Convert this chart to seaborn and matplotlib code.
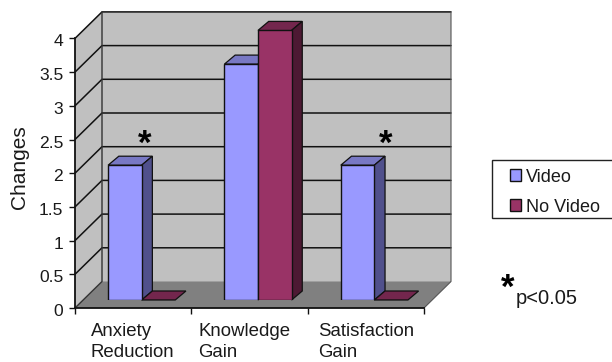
import matplotlib
matplotlib.use("Agg")
import matplotlib.pyplot as plt
import pandas as pd
import seaborn as sns
from matplotlib.patches import Polygon, Rectangle
from matplotlib.transforms import ScaledTranslation

categories = ["Anxiety\nReduction", "Knowledge\nGain", "Satisfaction\nGain"]
video_values = [2, 3.5, 2]
no_video_values = [0, 4, 0]
series_names = ["Video", "No Video"]
significant = ["Anxiety\nReduction", "Satisfaction\nGain"]
y_ticks = [0, 0.5, 1, 1.5, 2, 2.5, 3, 3.5, 4]
y_tick_labels = ["0", "0.5", "1", "1.5", "2", "2.5", "3", "3.5", "4"]

FACE = {"Video": "#9999FF", "No Video": "#993366"}
TOP = {"Video": "#7878C4", "No Video": "#73264D"}
SIDE = {"Video": "#50508C", "No Video": "#4D1933"}
WALL = "#C0C0C0"
FLOOR = "#808080"

W, H = 612, 362
DPI = 100

sns.set_style("white")
plt.rcParams["font.family"] = ["Liberation Sans", "DejaVu Sans"]
plt.rcParams["text.color"] = "#1a1a1a"

fig = plt.figure(figsize=(W / DPI, H / DPI), dpi=DPI)


def px_axes(x0, y_base, width, height, **kw):
    return fig.add_axes([x0 / W, (H - y_base) / H, width / W, height / H], **kw)


# Front plane of the chart box, holding the walls, floor and axes
PLOT_W, PLOT_H = 349, 269.6
ax = px_axes(75, 308, PLOT_W, PLOT_H)
ax.set_xlim(0, 3)
ax.set_ylim(0, 4)
ax.patch.set_visible(False)

unit_x = PLOT_W / 3
unit_y = PLOT_H / 4
depth_x = 27 / unit_x
depth_y = 26.5 / unit_y

ax.add_patch(Polygon([(0, 0), (depth_x, depth_y), (depth_x, 4 + depth_y), (0, 4)],
                     closed=True, fc=WALL, ec="none", clip_on=False, zorder=1))
ax.add_patch(Rectangle((depth_x, depth_y), 3, 4, fc=WALL, ec="none", clip_on=False, zorder=1))
ax.add_patch(Polygon([(0, 0), (3, 0), (3 + depth_x, depth_y), (depth_x, depth_y)],
                     closed=True, fc=FLOOR, ec="none", clip_on=False, zorder=1))

# Gridlines bend from the left wall onto the back wall
for tick in y_ticks[1:]:
    ax.plot([0, depth_x, 3 + depth_x], [tick, tick + depth_y, tick + depth_y],
            color="#111111", lw=1.1, clip_on=False, zorder=2)
ax.plot([0, depth_x, depth_x], [0, depth_y, 4 + depth_y], color="#333333", lw=1.0,
        clip_on=False, zorder=2)
ax.plot([3, 3 + depth_x, 3 + depth_x], [0, depth_y, 4 + depth_y], color="#555555", lw=0.8,
        clip_on=False, zorder=2)

sns.despine(ax=ax)
for side in ("left", "bottom"):
    ax.spines[side].set_color("#111111")
    ax.spines[side].set_linewidth(1.3)
    ax.spines[side].set_zorder(3)
ax.set_yticks(y_ticks, y_tick_labels, fontsize=12.6, color="#1a1a1a")
ax.set_xticks([0, 1, 2, 3], [])
ax.tick_params(axis="both", which="major", left=True, bottom=True, length=4, width=1,
               color="#111111", pad=4.5)
nudge = ScaledTranslation(0, -2 / DPI, fig.dpi_scale_trans)
for tick_label in ax.get_yticklabels():
    tick_label.set_transform(tick_label.get_transform() + nudge)

# Category labels are block-aligned under each group
label_left_px = [90.5, 198, 318]
for label, left in zip(categories, label_left_px):
    ax.annotate(label, xy=(0, 0), xycoords="axes fraction", xytext=(left - 75, -15.5),
                textcoords="offset pixels", ha="left", va="top", fontsize=13.4,
                linespacing=1.3, annotation_clip=False)

fig.text(20 / W, 1 - 167 / H, "Changes", rotation=90, ha="center", va="center", fontsize=15)

# Bars stand on a plane set back from the front of the box
bars = px_axes(83.5, 300, PLOT_W, PLOT_H)
bars.patch.set_visible(False)
frame = pd.DataFrame({
    "category": categories * 2,
    "series": [series_names[0]] * 3 + [series_names[1]] * 3,
    "value": video_values + no_video_values,
})
sns.barplot(data=frame, x="category", y="value", hue="series", ax=bars,
            palette=FACE, saturation=1, width=0.577, gap=0,
            edgecolor="#111111", linewidth=1, zorder=5)
bars.set_xlim(-0.5, 2.5)
bars.set_ylim(0, 4)
bars.set_axis_off()

bar_dx = 10.7 / unit_x
bar_dy = 9 / unit_y
for container, name in zip(bars.containers, series_names):
    for rect in container:
        x0, x1 = rect.get_x(), rect.get_x() + rect.get_width()
        top = rect.get_height()
        bars.add_patch(Polygon(
            [(x0, top), (x1, top), (x1 + bar_dx, top + bar_dy), (x0 + bar_dx, top + bar_dy)],
            closed=True, fc=TOP[name], ec="#111111", lw=0.9, clip_on=False, zorder=4))
        if top > 0:
            bars.add_patch(Polygon(
                [(x1, 0), (x1 + bar_dx, bar_dy), (x1 + bar_dx, top + bar_dy), (x1, top)],
                closed=True, fc=SIDE[name], ec="#111111", lw=0.9, clip_on=False, zorder=4))

# Significance markers float above the Video bars
star_shift_px = {"Anxiety\nReduction": 3, "Satisfaction\nGain": 11}
for label in significant:
    i = categories.index(label)
    bars.annotate("*", xy=(i, video_values[i]), xycoords="data",
                  xytext=(star_shift_px[label], 21), textcoords="offset pixels",
                  ha="center", va="center", fontsize=25, fontweight="bold",
                  color="black", annotation_clip=False)

# Legend box runs off the right edge of the figure
fig.add_artist(Rectangle((492 / W, 1 - 218 / H), 130 / W, 58 / H, transform=fig.transFigure,
                         fc="white", ec="#222222", lw=1, zorder=-1))
sns.move_legend(bars, "upper left", bbox_to_anchor=(510 / W, 1 - 168.5 / H),
                bbox_transform=fig.transFigure, frameon=False, title=None, fontsize=13,
                handlelength=0.62, handleheight=0.67, handletextpad=0.28,
                labelspacing=0.72, borderpad=0, borderaxespad=0)

fig.text(508 / W, 1 - 288 / H, "*", ha="center", va="center", fontsize=25, fontweight="bold",
         color="black")
fig.text(516 / W, 1 - 299 / H, "p<0.05", ha="left", va="center", fontsize=14.5)

fig.savefig("out.png", dpi=DPI, facecolor="white")
